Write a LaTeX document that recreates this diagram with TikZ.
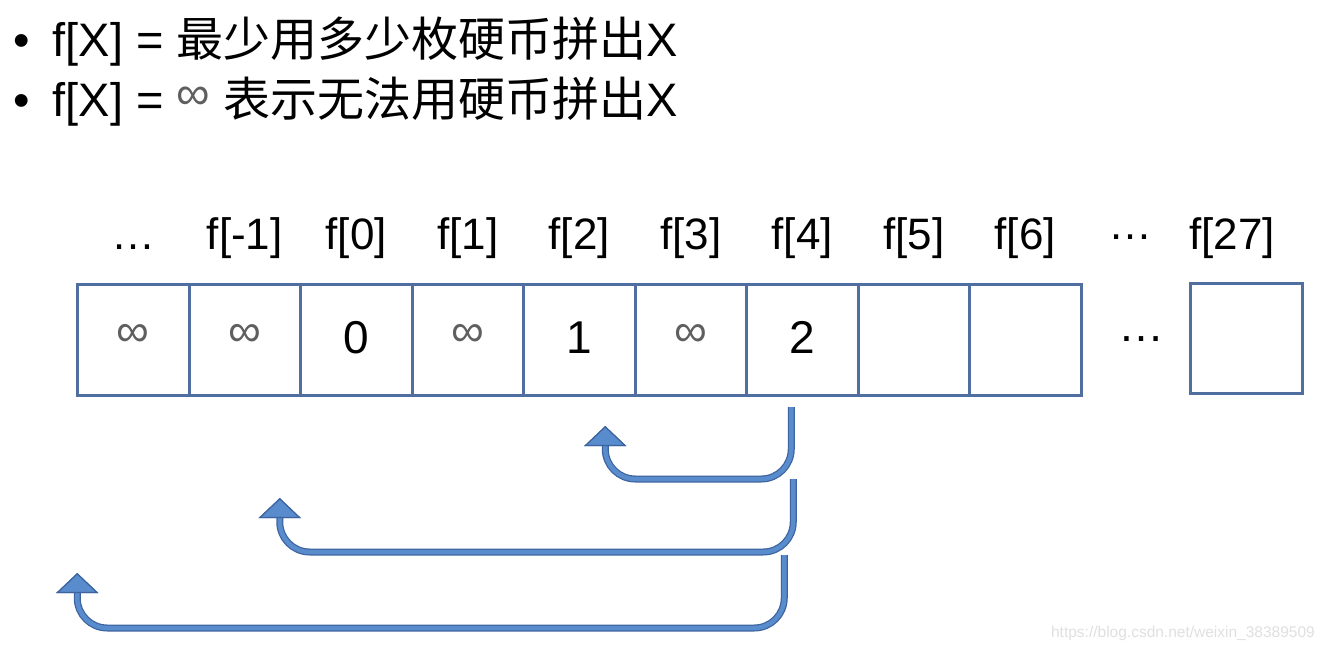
\documentclass[tikz,border=0pt]{standalone}
\usepackage{fontspec}
\setmainfont{Liberation Sans}
\newfontfamily\cjk{Noto Sans CJK SC}
\usetikzlibrary{arrows.meta,positioning}
\definecolor{boxline}{RGB}{80,110,160}
\definecolor{arrowfill}{RGB}{88,140,205}
\definecolor{arrowline}{RGB}{62,100,160}
\definecolor{infgray}{RGB}{95,95,95}
\newcommand{\infsym}{\textcolor{infgray}{\raisebox{7pt}{∞}}}

\begin{document}
\begin{tikzpicture}[
  x=1pt, y=-1pt,
  cell/.style={draw=boxline, line width=3pt, minimum width=111.5pt,
    minimum height=111pt, inner sep=0pt, outer sep=0pt,
    text height=27pt, text depth=0pt, font=\fontsize{46}{50}\selectfont},
  lbl/.style={anchor=base, inner sep=0pt, font=\fontsize{44}{50}\selectfont},
  line/.style={anchor=base west, inner sep=0pt, font=\fontsize{47}{55}\selectfont},
  bent/.style={draw=arrowfill, line width=4.5pt, rounded corners=30pt,
    -{Triangle[length=20pt, width=42pt, line width=1.2pt, color=arrowline, fill=arrowfill]},
    preaction={draw=arrowline, line width=7pt,
      -{Triangle[length=20pt, width=42pt, line width=1.2pt, color=arrowline, fill=arrowfill]}}}
]
\fill[white] (0,0) rectangle (1325,650);
\useasboundingbox (0,0) rectangle (1325,650);

% ── heading lines ────────────────────────────────────────────────────────
\node[line] (t1) at (13,57) {•\hspace{23pt}f[X] = {\cjk 最少用多少枚硬币拼出}X};
\node[line] (t2) at (13,117) {•\hspace{23pt}f[X] = \infsym{} {\cjk 表示无法用硬币拼出}X};

% ── array cells ──────────────────────────────────────────────────────────
\foreach \v [count=\i] in {\infsym,\infsym,0,\infsym,1,\infsym,2,{},{}}
  \node[cell] (c\i) at ({77.5+111.5*(\i-1)+55.75}, 339.5) {\v};
\node[lbl, font=\fontsize{46}{50}\selectfont] (rowdots) at (1141,341) {…};
\node[cell, minimum width=112pt, minimum height=110pt] (c27) at (1246,338) {};

% ── index labels ─────────────────────────────────────────────────────────
\foreach \t [count=\i] in {…,f[-1],f[0],f[1],f[2],f[3],f[4],f[5],f[6]}
  \node[lbl] (l\i) at (c\i |- 0,249) {\t};
\node[lbl] (ldots) at (1130,239) {…};
\node[lbl] (l27) at (1232,249) {f[27]};

% ── transitions from f[4] ────────────────────────────────────────────────
\draw[bent] ([xshift=-11pt, yshift=-12pt]c7.south) |- ([xshift=26pt, yshift=-84pt]c5.south)
  -- ([xshift=26pt, yshift=-31pt]c5.south);
\draw[bent] ([xshift=-9pt, yshift=-84pt]c7.south) |- ([xshift=35pt, yshift=-157pt]c2.south)
  -- ([xshift=35pt, yshift=-103pt]c2.south);
\draw[bent] ([xshift=-18pt, yshift=-160pt]c7.south) |- ([xshift=-56pt, yshift=-233pt]c1.south)
  -- ([xshift=-56pt, yshift=-178pt]c1.south);

\node[anchor=base east, inner sep=0pt, text=black!12, font=\fontsize{15.5}{18}\selectfont]
  (wm) at (1315,637) {https://blog.csdn.net/weixin\_38389509};
\end{tikzpicture}
\end{document}
